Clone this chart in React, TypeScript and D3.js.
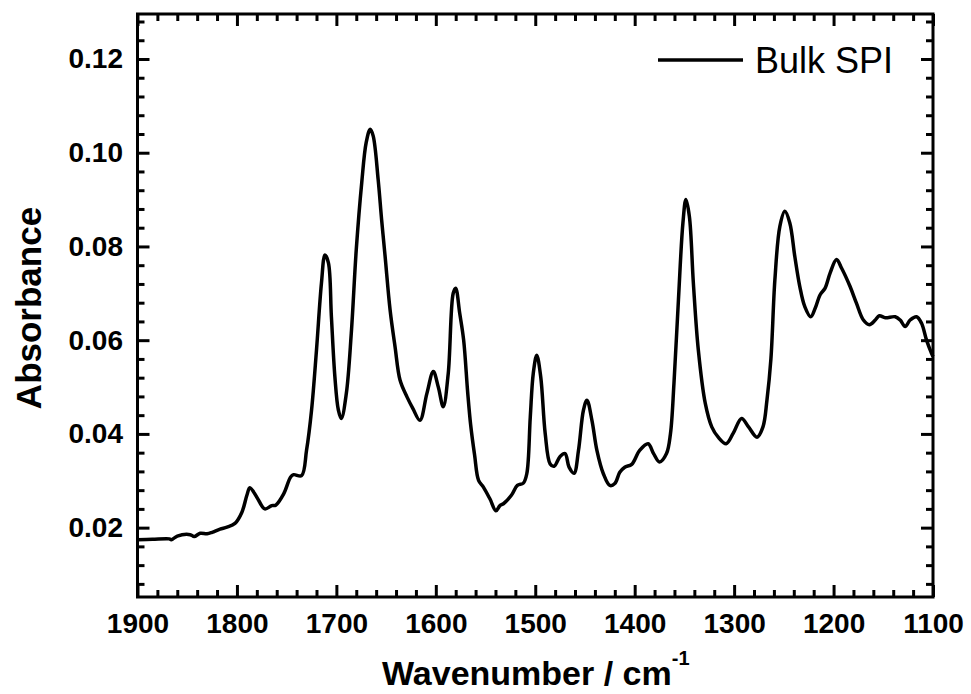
import React, { useEffect, useRef } from "react";
import * as d3 from "d3";

// FTIR spectrum of bulk SPI
const wavenumber = [
  1900, 1885, 1868, 1866, 1860, 1847, 1843, 1837, 1830, 1825, 1817, 1810, 1802, 1795,
  1790, 1787, 1780, 1772, 1765, 1761, 1753, 1746, 1743, 1735, 1730, 1725, 1720,
  1715, 1711.5, 1708, 1705, 1701.5, 1698, 1695, 1690, 1685, 1680, 1674.5, 1670, 1666,
  1663, 1658, 1654.5, 1651, 1646, 1641, 1636, 1629, 1623, 1616, 1609, 1602.5, 1597.5,
  1592.5, 1587.5, 1582.5, 1580, 1576, 1572, 1568, 1565, 1561, 1557, 1552, 1545.5,
  1539.5, 1535.5, 1532, 1524, 1518, 1512, 1508.5, 1505, 1502, 1498.5, 1494.5, 1490,
  1485, 1481, 1475, 1470, 1466, 1461, 1456.5, 1451.5, 1448, 1443, 1438, 1431.5, 1425,
  1420, 1415, 1410, 1403, 1395, 1386.5, 1381, 1375, 1368, 1364, 1360.5, 1356, 1351.5,
  1348.5, 1345, 1341, 1336, 1329, 1322.5, 1316, 1308, 1301, 1292.5, 1285.5, 1277, 1271,
  1267, 1263, 1259, 1254, 1249, 1244, 1239, 1234, 1229, 1223, 1218.5, 1213.5,
  1208.5, 1203.5, 1197, 1192, 1183.5, 1177, 1170, 1164, 1158, 1154, 1148, 1138, 1133,
  1128, 1123, 1116.5, 1111.5, 1106.5, 1101.5, 1100,
];

const absorbance = [
  0.0174, 0.0175, 0.0176, 0.0174, 0.0182, 0.0185, 0.0181, 0.0188, 0.0187, 0.019, 0.0197,
  0.0201, 0.0209, 0.0233, 0.0269, 0.0285, 0.0265, 0.024, 0.0247, 0.0248, 0.0272, 0.0308,
  0.0313, 0.0311, 0.0365, 0.045, 0.0579, 0.0722, 0.0782, 0.0765, 0.065, 0.0522,
  0.0451, 0.0433, 0.0486, 0.0615, 0.0793, 0.0936, 0.1022, 0.105, 0.1036, 0.0943, 0.0857,
  0.0779, 0.0665, 0.0586, 0.0515, 0.0479, 0.0454, 0.0429, 0.0486, 0.0533, 0.05, 0.0458,
  0.0529, 0.07, 0.0711, 0.0658, 0.06, 0.049, 0.042, 0.0355, 0.0301, 0.0286, 0.0261,
  0.0236, 0.0247, 0.0251, 0.0269, 0.029, 0.0295, 0.0315, 0.0436, 0.0529, 0.0568, 0.0522,
  0.0401, 0.0336, 0.0331, 0.0352, 0.0358, 0.0329, 0.0316, 0.0365, 0.0451, 0.0472, 0.0429,
  0.0365, 0.0315, 0.029, 0.0294, 0.0318, 0.0329, 0.0335, 0.0365, 0.0379, 0.0358, 0.034,
  0.0358, 0.0401, 0.0508, 0.0686, 0.085, 0.09, 0.0864, 0.0722, 0.0579, 0.0465, 0.0415,
  0.0393, 0.0379, 0.0401, 0.0433, 0.0415, 0.0393, 0.0415, 0.0472, 0.056, 0.0729,
  0.0843, 0.0875, 0.085, 0.0779, 0.0715, 0.0672, 0.065, 0.0668, 0.0697, 0.0711, 0.0743,
  0.0772, 0.0754, 0.0715, 0.0679, 0.0643, 0.0633, 0.0643, 0.0652, 0.0648, 0.065, 0.0643,
  0.0629, 0.0643, 0.065, 0.0636, 0.06, 0.0572, 0.0565,
];

const xMajorTicks = [1900, 1800, 1700, 1600, 1500, 1400, 1300, 1200, 1100];
const yMajorTicks = [0.02, 0.04, 0.06, 0.08, 0.1, 0.12];
const seriesName = "Bulk SPI";

const width = 971;
const height = 694;
const margin = { top: 14, left: 137.5, bottom: 97, right: 38 };
const iwidth = width - margin.left - margin.right;
const iheight = height - margin.top - margin.bottom;
const font = "Arial, 'Liberation Sans', sans-serif";

export default function App() {
  const ref = useRef<SVGSVGElement>(null);

  useEffect(() => {
    const svg = d3.select(ref.current);
    svg.selectAll("*").remove();

    const x = d3.scaleLinear().domain([1900, 1100]).range([0, iwidth]);
    const y = d3.scaleLinear().domain([0.0052, 0.1296]).range([iheight, 0]);

    const xMinor = d3.range(1100, 1901, 20).filter((v) => v % 100 !== 0);
    const yMinor = d3
      .range(2, 33)
      .filter((i) => i % 5 !== 0)
      .map((i) => i * 0.004);

    const g = svg
      .append("g")
      .attr("transform", `translate(${margin.left},${margin.top})`);

    const styleAxis = (sel: any) => {
      sel.select(".domain").remove();
      sel.selectAll("line").attr("stroke", "#000").attr("stroke-width", 3);
      sel
        .selectAll("text")
        .attr("fill", "#000")
        .style("font-family", font)
        .style("font-weight", "bold")
        .style("font-size", "28px");
    };

    // bottom
    g.append("g")
      .attr("transform", `translate(0,${iheight})`)
      .call(d3.axisBottom(x).tickValues(xMajorTicks).tickFormat(d3.format("d")).tickSize(-12).tickPadding(16))
      .call(styleAxis);
    g.append("g")
      .attr("transform", `translate(0,${iheight})`)
      .call(d3.axisBottom(x).tickValues(xMinor).tickFormat(() => "").tickSize(-7))
      .call(styleAxis);
    // top
    g.append("g")
      .call(d3.axisTop(x).tickValues(xMajorTicks).tickFormat(() => "").tickSize(-12))
      .call(styleAxis);
    g.append("g")
      .call(d3.axisTop(x).tickValues(xMinor).tickFormat(() => "").tickSize(-7))
      .call(styleAxis);
    // left
    g.append("g")
      .call(d3.axisLeft(y).tickValues(yMajorTicks).tickFormat(d3.format(".2f")).tickSize(-12).tickPadding(14.5))
      .call(styleAxis);
    g.append("g")
      .call(d3.axisLeft(y).tickValues(yMinor).tickFormat(() => "").tickSize(-7))
      .call(styleAxis);
    // right
    g.append("g")
      .attr("transform", `translate(${iwidth},0)`)
      .call(d3.axisRight(y).tickValues(yMajorTicks).tickFormat(() => "").tickSize(-12))
      .call(styleAxis);
    g.append("g")
      .attr("transform", `translate(${iwidth},0)`)
      .call(d3.axisRight(y).tickValues(yMinor).tickFormat(() => "").tickSize(-7))
      .call(styleAxis);

    const data = wavenumber.map((w, i) => ({ w, a: absorbance[i] }));
    const line = d3
      .line<{ w: number; a: number }>()
      .x((d) => x(d.w))
      .y((d) => y(d.a))
      .curve(d3.curveCatmullRom.alpha(0.5));

    g.append("path")
      .datum(data)
      .attr("d", line)
      .attr("fill", "none")
      .attr("stroke", "#000")
      .attr("stroke-width", 3.5)
      .attr("stroke-linejoin", "round");

    // frame
    g.append("rect")
      .attr("width", iwidth)
      .attr("height", iheight)
      .attr("fill", "none")
      .attr("stroke", "#000")
      .attr("stroke-width", 3);

    // legend
    const lg = svg.append("g").attr("transform", "translate(658,60)");
    lg.append("line")
      .attr("x1", 0)
      .attr("x2", 85)
      .attr("stroke", "#000")
      .attr("stroke-width", 3.5);
    lg.append("text")
      .attr("x", 97)
      .attr("y", 12.5)
      .style("font-family", font)
      .style("font-size", "36px")
      .text(seriesName);

    // axis titles
    const xt = svg
      .append("text")
      .attr("x", 382)
      .attr("y", 685)
      .style("font-family", font)
      .style("font-weight", "bold")
      .style("font-size", "34px");
    xt.append("tspan").text("Wavenumber / cm");
    xt.append("tspan").attr("dy", -20).style("font-size", "20px").text("-1");

    svg
      .append("text")
      .attr("transform", "translate(41,308) rotate(-90)")
      .attr("text-anchor", "middle")
      .style("font-family", font)
      .style("font-weight", "bold")
      .style("font-size", "35px")
      .text("Absorbance");
  }, []);

  return (
    <svg
      ref={ref}
      width={width}
      height={height}
      style={{ position: "absolute", left: 0, top: 0, background: "#fff" }}
    />
  );
}
